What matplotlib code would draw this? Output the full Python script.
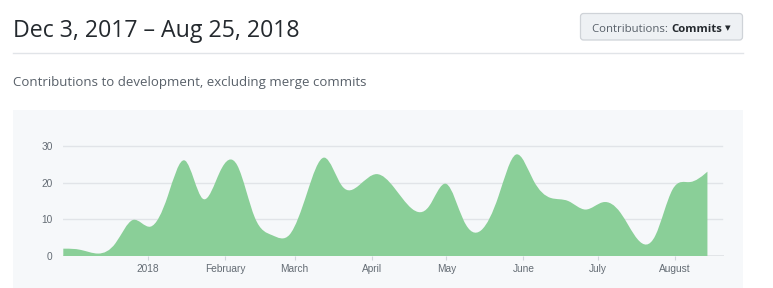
import matplotlib
matplotlib.use("Agg")
import matplotlib.pyplot as plt
import matplotlib.dates as mdates
from matplotlib.path import Path
from matplotlib.patches import PathPatch, FancyBboxPatch, Rectangle
from matplotlib.lines import Line2D
import numpy as np
import pandas as pd

# ---------------- data ----------------
title = "Dec 3, 2017 \u2013 Aug 25, 2018"
subtitle = "Contributions to development, excluding merge commits"
button_label = "Contributions: "
button_value = "Commits"
first_week = "2017-11-28"
commits = [2, 2, 0, 2, 13, 5, 15, 33, 9, 25,
           29, 7, 6, 3, 17, 32, 16, 19, 24, 19,
           12, 11, 25, 7, 5, 15, 33, 19, 15, 16,
           11, 16, 13, 3, 2, 22, 19, 23]
y_ticks = [0, 10, 20, 30]
month_ticks = ["2018-01-01", "2018-02-01", "2018-03-01", "2018-04-01",
               "2018-05-01", "2018-06-01", "2018-07-01", "2018-08-01"]
month_labels = ["2018", "February", "March", "April", "May", "June", "July", "August"]

# ---------------- layout helpers ----------------
W, H = 773, 288
fig = plt.figure(figsize=(W / 100, H / 100), dpi=100)
fig.patch.set_facecolor("white")
PX = fig.dpi_scale_trans  # inches; 1 px = 0.01 in


def ix(x):
    return x / 100.0


def iy(y):
    return (H - y) / 100.0


UI_FONT = ["Open Sans", "DejaVu Sans"]
AX_FONT = ["Liberation Sans", "DejaVu Sans"]

renderer = fig.canvas.get_renderer()


def fit_text(x, y, s, target_w, size, **kw):
    t = fig.text(ix(x), iy(y), s, transform=PX, fontsize=size, **kw)
    w = t.get_window_extent(renderer).width
    t.set_fontsize(size * target_w / w)
    return t


# title
fit_text(13, 37.3, title, 287, 17, family=UI_FONT, color="#24292e",
         ha="left", va="baseline")

# button
btn = FancyBboxPatch((ix(580.5), iy(40)), ix(162), ix(26.5),
                     boxstyle="round,pad=0,rounding_size=0.03",
                     transform=PX, facecolor="#eef1f4", edgecolor="#cfd3d8",
                     linewidth=0.9)
fig.add_artist(btn)
b_x0, b_x1, b_base = 591.5, 722.0, 32.5
t1 = fig.text(0, iy(b_base), button_label, transform=PX, fontsize=9,
              family=UI_FONT, color="#586069", ha="left", va="baseline")
t2 = fig.text(0, iy(b_base), button_value, transform=PX, fontsize=9,
              family=UI_FONT, weight="bold", color="#24292e",
              ha="left", va="baseline")
w1 = t1.get_window_extent(renderer).width
w2 = t2.get_window_extent(renderer).width
f = (b_x1 - b_x0) / (w1 + w2)
for t in (t1, t2):
    t.set_fontsize(t.get_fontsize() * f)
t1.set_x(ix(b_x0))
t2.set_x(ix(b_x0 + w1 * f))
fig.text(ix(b_x1 + 2.5), iy(28.5), "\u25BC", transform=PX, fontsize=5.2,
         family=["DejaVu Sans"], color="#24292e", ha="left", va="center")

# rule
fig.add_artist(Line2D([ix(13), ix(743)], [iy(53.5), iy(53.5)], transform=PX,
                      color="#e1e4e8", lw=1))

# subtitle
fit_text(13, 86, subtitle, 353, 10, family=UI_FONT, color="#586069",
         ha="left", va="baseline")

# grey panel
fig.add_artist(Rectangle((ix(13), iy(288)), ix(730), ix(178), transform=PX,
                         facecolor="#f6f8fa", edgecolor="none", zorder=0))

# ---------------- chart ----------------
ax_left, ax_right, ax_top, ax_bot = 63.3, 724.0, 135.0, 256.0
ax = fig.add_axes([ax_left / W, 1 - ax_bot / H,
                   (ax_right - ax_left) / W, (ax_bot - ax_top) / H])
ax.set_facecolor("none")
for s in ax.spines.values():
    s.set_visible(False)

dates = pd.date_range(first_week, periods=len(commits), freq="7D")
xs = mdates.date2num(dates.to_pydatetime())
px_per_day = 2.487
ax.set_xlim(xs[0], xs[0] + (ax_right - ax_left) / px_per_day)
ymax = 30 * (ax_bot - ax_top) / (ax_bot - 146.0)
ax.set_ylim(0, ymax)

# gridlines
grid_end = (722 - ax_left) / (ax_right - ax_left)
for yv in y_ticks[1:]:
    ax.axhline(yv, xmin=0, xmax=grid_end, color="#e1e4e8", lw=1, zorder=1)
ax.axhline(0, color="#dfe2e5", lw=1.2, zorder=1)

# d3 curveBasis area
pts = np.column_stack([xs, np.asarray(commits, dtype=float)])
n = len(pts)
verts = [tuple(pts[0])]
codes = [Path.MOVETO]
verts.append(tuple((5 * pts[0] + pts[1]) / 6))
codes.append(Path.LINETO)


def bez(p0, p1, p2):
    verts.extend([tuple((2 * p0 + p1) / 3), tuple((p0 + 2 * p1) / 3),
                  tuple((p0 + 4 * p1 + p2) / 6)])
    codes.extend([Path.CURVE4] * 3)


for i in range(2, n):
    bez(pts[i - 2], pts[i - 1], pts[i])
bez(pts[n - 2], pts[n - 1], pts[n - 1])
verts.append(tuple(pts[n - 1]))
codes.append(Path.LINETO)
verts.append((pts[n - 1][0], 0.0))
codes.append(Path.LINETO)
verts.append((pts[0][0], 0.0))
codes.append(Path.LINETO)
verts.append((pts[0][0], 0.0))
codes.append(Path.CLOSEPOLY)
ax.add_patch(PathPatch(Path(verts, codes), facecolor="#8acf98",
                       edgecolor="none", zorder=2))

# ticks
ax.set_xticks(mdates.date2num(pd.to_datetime(month_ticks).to_pydatetime()))
ax.set_xticklabels(month_labels)
ax.set_yticks(y_ticks)
ax.set_yticklabels([str(v) for v in y_ticks])
ax.tick_params(axis="x", length=3, width=0.8, color="#d1d5da", pad=3,
               labelsize=7.3, labelcolor="#646c74")
ax.tick_params(axis="y", length=0, pad=7.6, labelsize=7.3, labelcolor="#646c74")
for lab in ax.get_xticklabels() + ax.get_yticklabels():
    lab.set_family(AX_FONT)

fig.savefig("out.png", dpi=100, facecolor="white")
